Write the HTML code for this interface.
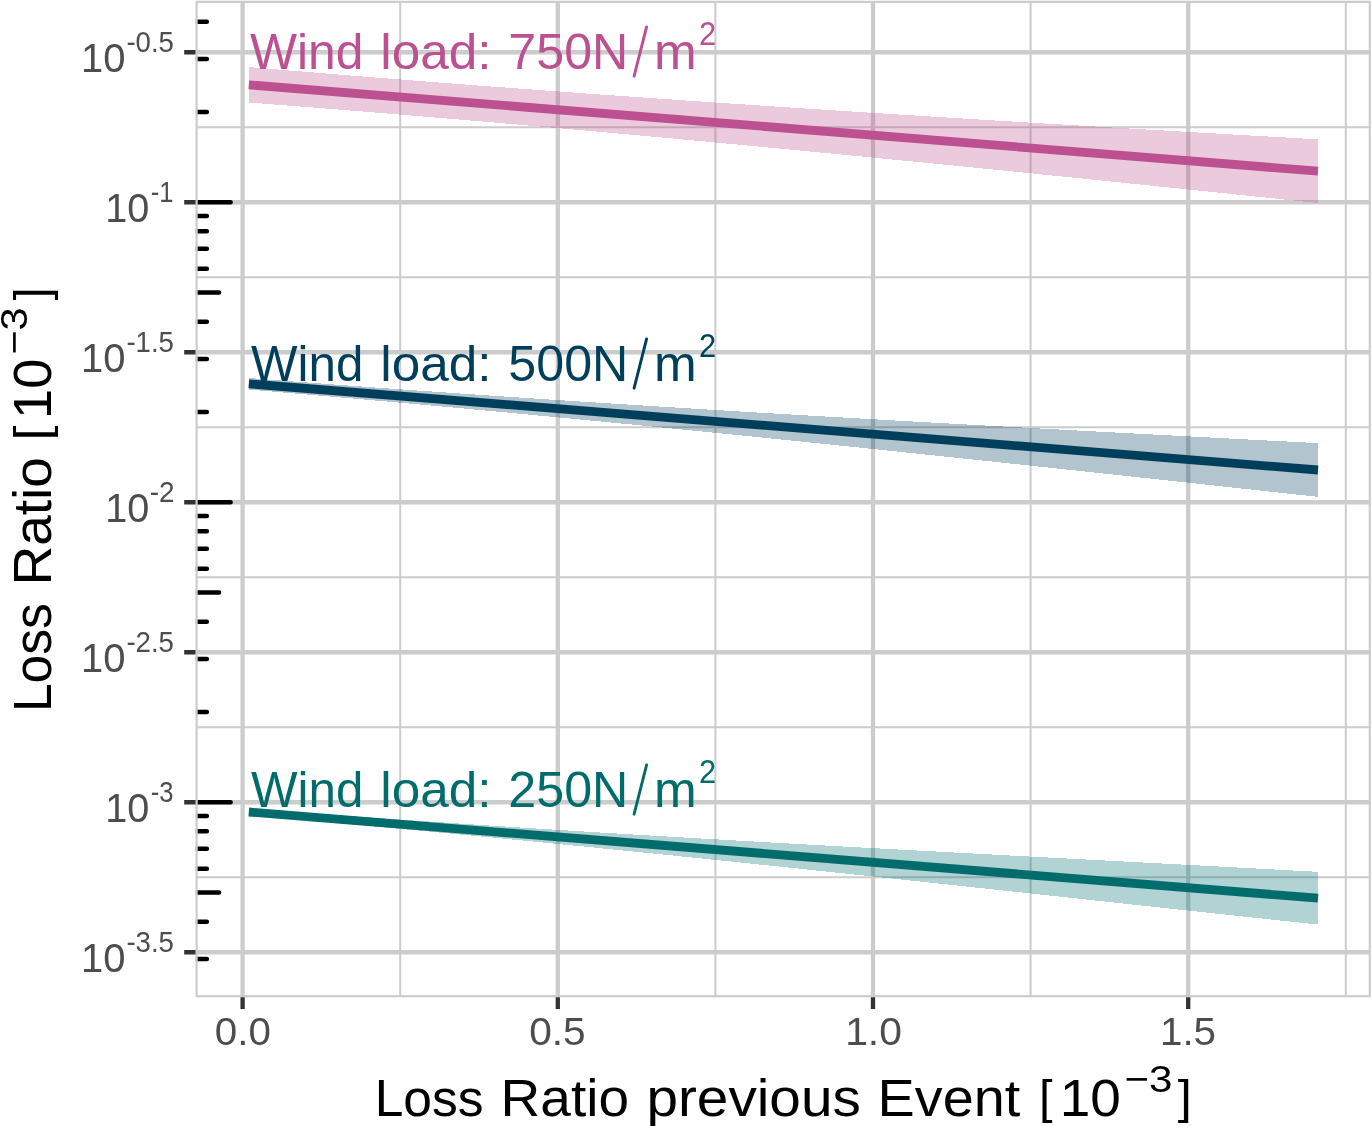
<!DOCTYPE html><html><head><meta charset="utf-8"><style>html,body{margin:0;padding:0;background:#fff;width:1372px;height:1126px;overflow:hidden}svg{display:block;will-change:transform}text{font-family:"Liberation Sans",sans-serif}</style></head><body>
<svg width="1372" height="1126" viewBox="0 0 1372 1126">
<rect width="1372" height="1126" fill="#fff"/>
<path d="M196.6 127.25H1369.8M196.6 277.25H1369.8M196.6 427.25H1369.8M196.6 577.25H1369.8M196.6 727.25H1369.8M196.6 877.25H1369.8M400.2 1.85V996.2M715.4 1.85V996.2M1030.6 1.85V996.2M1345.8 1.85V996.2" stroke="#CCCCCC" stroke-width="2" fill="none"/>
<path d="M196.6 52.25H1369.8M196.6 202.25H1369.8M196.6 352.25H1369.8M196.6 502.25H1369.8M196.6 652.25H1369.8M196.6 802.25H1369.8M196.6 952.25H1369.8M242.6 1.85V996.2M557.8 1.85V996.2M873 1.85V996.2M1188.2 1.85V996.2" stroke="#CCCCCC" stroke-width="4.3" fill="none"/>
<path d="M248.8 67.08 L262.33 68.22 L275.87 69.37 L289.4 70.5 L302.94 71.62 L316.47 72.74 L330.01 73.85 L343.54 74.95 L357.07 76.04 L370.61 77.13 L384.14 78.21 L397.68 79.28 L411.21 80.34 L424.74 81.4 L438.28 82.45 L451.81 83.49 L465.35 84.53 L478.88 85.56 L492.42 86.58 L505.95 87.59 L519.48 88.6 L533.02 89.61 L546.55 90.6 L560.09 91.59 L573.62 92.57 L587.15 93.55 L600.69 94.52 L614.22 95.48 L627.76 96.44 L641.29 97.4 L654.83 98.34 L668.36 99.28 L681.89 100.22 L695.43 101.15 L708.96 102.07 L722.5 102.99 L736.03 103.9 L749.56 104.81 L763.1 105.72 L776.63 106.61 L790.17 107.51 L803.7 108.4 L817.24 109.28 L830.77 110.16 L844.3 111.03 L857.84 111.9 L871.37 112.77 L884.91 113.63 L898.44 114.48 L911.97 115.34 L925.51 116.18 L939.04 117.03 L952.58 117.87 L966.11 118.7 L979.65 119.53 L993.18 120.36 L1006.71 121.19 L1020.25 122.01 L1033.78 122.83 L1047.32 123.64 L1060.85 124.45 L1074.38 125.26 L1087.92 126.06 L1101.45 126.86 L1114.99 127.66 L1128.52 128.46 L1142.06 129.25 L1155.59 130.04 L1169.12 130.83 L1182.66 131.61 L1196.19 132.39 L1209.73 133.17 L1223.26 133.95 L1236.79 134.72 L1250.33 135.5 L1263.86 136.27 L1277.4 137.04 L1290.93 137.8 L1304.47 138.57 L1318 139.33 L1318 203.07 L1304.47 201.65 L1290.93 200.22 L1277.4 198.8 L1263.86 197.38 L1250.33 195.97 L1236.79 194.55 L1223.26 193.14 L1209.73 191.73 L1196.19 190.32 L1182.66 188.92 L1169.12 187.51 L1155.59 186.11 L1142.06 184.72 L1128.52 183.32 L1114.99 181.93 L1101.45 180.54 L1087.92 179.15 L1074.38 177.77 L1060.85 176.39 L1047.32 175.01 L1033.78 173.64 L1020.25 172.27 L1006.71 170.9 L993.18 169.54 L979.65 168.18 L966.11 166.83 L952.58 165.48 L939.04 164.13 L925.51 162.78 L911.97 161.44 L898.44 160.11 L884.91 158.78 L871.37 157.45 L857.84 156.13 L844.3 154.81 L830.77 153.5 L817.24 152.19 L803.7 150.89 L790.17 149.59 L776.63 148.29 L763.1 147 L749.56 145.72 L736.03 144.44 L722.5 143.17 L708.96 141.9 L695.43 140.63 L681.89 139.38 L668.36 138.12 L654.83 136.88 L641.29 135.64 L627.76 134.4 L614.22 133.17 L600.69 131.95 L587.15 130.73 L573.62 129.52 L560.09 128.32 L546.55 127.12 L533.02 125.93 L519.48 124.74 L505.95 123.57 L492.42 122.39 L478.88 121.23 L465.35 120.07 L451.81 118.92 L438.28 117.77 L424.74 116.63 L411.21 115.5 L397.68 114.38 L384.14 113.26 L370.61 112.16 L357.07 111.05 L343.54 109.96 L330.01 108.88 L316.47 107.8 L302.94 106.73 L289.4 105.66 L275.87 104.61 L262.33 103.56 L248.8 102.52 Z" fill="#BC5090" fill-opacity="0.3" shape-rendering="crispEdges"/>
<path d="M248.8 378.01 L262.33 379.06 L275.87 380.1 L289.4 381.14 L302.94 382.16 L316.47 383.18 L330.01 384.19 L343.54 385.19 L357.07 386.18 L370.61 387.17 L384.14 388.14 L397.68 389.11 L411.21 390.08 L424.74 391.03 L438.28 391.98 L451.81 392.92 L465.35 393.86 L478.88 394.78 L492.42 395.71 L505.95 396.62 L519.48 397.53 L533.02 398.43 L546.55 399.32 L560.09 400.21 L573.62 401.09 L587.15 401.97 L600.69 402.84 L614.22 403.7 L627.76 404.56 L641.29 405.42 L654.83 406.26 L668.36 407.11 L681.89 407.94 L695.43 408.77 L708.96 409.6 L722.5 410.42 L736.03 411.24 L749.56 412.05 L763.1 412.86 L776.63 413.66 L790.17 414.46 L803.7 415.25 L817.24 416.04 L830.77 416.82 L844.3 417.6 L857.84 418.38 L871.37 419.15 L884.91 419.92 L898.44 420.69 L911.97 421.45 L925.51 422.21 L939.04 422.96 L952.58 423.71 L966.11 424.46 L979.65 425.21 L993.18 425.95 L1006.71 426.69 L1020.25 427.42 L1033.78 428.16 L1047.32 428.89 L1060.85 429.62 L1074.38 430.35 L1087.92 431.07 L1101.45 431.79 L1114.99 432.51 L1128.52 433.23 L1142.06 433.95 L1155.59 434.66 L1169.12 435.37 L1182.66 436.08 L1196.19 436.79 L1209.73 437.5 L1223.26 438.21 L1236.79 438.91 L1250.33 439.62 L1263.86 440.32 L1277.4 441.03 L1290.93 441.73 L1304.47 442.43 L1318 443.13 L1318 496.87 L1304.47 495.39 L1290.93 493.91 L1277.4 492.43 L1263.86 490.95 L1250.33 489.47 L1236.79 487.99 L1223.26 486.52 L1209.73 485.04 L1196.19 483.57 L1182.66 482.09 L1169.12 480.62 L1155.59 479.15 L1142.06 477.69 L1128.52 476.22 L1114.99 474.75 L1101.45 473.29 L1087.92 471.83 L1074.38 470.37 L1060.85 468.92 L1047.32 467.46 L1033.78 466.01 L1020.25 464.56 L1006.71 463.12 L993.18 461.68 L979.65 460.24 L966.11 458.8 L952.58 457.36 L939.04 455.93 L925.51 454.51 L911.97 453.08 L898.44 451.66 L884.91 450.24 L871.37 448.83 L857.84 447.42 L844.3 446.02 L830.77 444.61 L817.24 443.22 L803.7 441.82 L790.17 440.43 L776.63 439.05 L763.1 437.67 L749.56 436.29 L736.03 434.92 L722.5 433.56 L708.96 432.2 L695.43 430.84 L681.89 429.49 L668.36 428.14 L654.83 426.8 L641.29 425.47 L627.76 424.14 L614.22 422.82 L600.69 421.5 L587.15 420.19 L573.62 418.88 L560.09 417.58 L546.55 416.29 L533.02 415 L519.48 413.72 L505.95 412.44 L492.42 411.18 L478.88 409.91 L465.35 408.66 L451.81 407.41 L438.28 406.17 L424.74 404.94 L411.21 403.71 L397.68 402.49 L384.14 401.28 L370.61 400.08 L357.07 398.88 L343.54 397.69 L330.01 396.51 L316.47 395.33 L302.94 394.17 L289.4 393.01 L275.87 391.86 L262.33 390.72 L248.8 389.59 Z" fill="#003F5C" fill-opacity="0.3" shape-rendering="crispEdges"/>
<path d="M248.8 808.53 L262.33 809.57 L275.87 810.59 L289.4 811.6 L302.94 812.6 L316.47 813.6 L330.01 814.58 L343.54 815.56 L357.07 816.52 L370.61 817.48 L384.14 818.43 L397.68 819.37 L411.21 820.3 L424.74 821.22 L438.28 822.13 L451.81 823.04 L465.35 823.94 L478.88 824.83 L492.42 825.71 L505.95 826.59 L519.48 827.45 L533.02 828.32 L546.55 829.17 L560.09 830.02 L573.62 830.86 L587.15 831.69 L600.69 832.52 L614.22 833.35 L627.76 834.16 L641.29 834.97 L654.83 835.78 L668.36 836.58 L681.89 837.37 L695.43 838.16 L708.96 838.95 L722.5 839.73 L736.03 840.51 L749.56 841.28 L763.1 842.04 L776.63 842.81 L790.17 843.57 L803.7 844.32 L817.24 845.07 L830.77 845.82 L844.3 846.57 L857.84 847.31 L871.37 848.05 L884.91 848.78 L898.44 849.52 L911.97 850.25 L925.51 850.98 L939.04 851.7 L952.58 852.43 L966.11 853.15 L979.65 853.87 L993.18 854.59 L1006.71 855.31 L1020.25 856.03 L1033.78 856.74 L1047.32 857.46 L1060.85 858.17 L1074.38 858.89 L1087.92 859.6 L1101.45 860.32 L1114.99 861.03 L1128.52 861.74 L1142.06 862.46 L1155.59 863.17 L1169.12 863.89 L1182.66 864.6 L1196.19 865.32 L1209.73 866.04 L1223.26 866.76 L1236.79 867.48 L1250.33 868.2 L1263.86 868.93 L1277.4 869.65 L1290.93 870.38 L1304.47 871.11 L1318 871.85 L1318 924.55 L1304.47 923.1 L1290.93 921.65 L1277.4 920.2 L1263.86 918.74 L1250.33 917.29 L1236.79 915.83 L1223.26 914.36 L1209.73 912.9 L1196.19 911.44 L1182.66 909.97 L1169.12 908.51 L1155.59 907.04 L1142.06 905.57 L1128.52 904.1 L1114.99 902.64 L1101.45 901.17 L1087.92 899.7 L1074.38 898.23 L1060.85 896.76 L1047.32 895.3 L1033.78 893.83 L1020.25 892.36 L1006.71 890.9 L993.18 889.43 L979.65 887.97 L966.11 886.51 L952.58 885.05 L939.04 883.59 L925.51 882.14 L911.97 880.68 L898.44 879.23 L884.91 877.78 L871.37 876.34 L857.84 874.9 L844.3 873.45 L830.77 872.02 L817.24 870.58 L803.7 869.15 L790.17 867.73 L776.63 866.3 L763.1 864.88 L749.56 863.47 L736.03 862.06 L722.5 860.65 L708.96 859.25 L695.43 857.85 L681.89 856.46 L668.36 855.07 L654.83 853.69 L641.29 852.31 L627.76 850.94 L614.22 849.58 L600.69 848.22 L587.15 846.86 L573.62 845.52 L560.09 844.17 L546.55 842.84 L533.02 841.51 L519.48 840.19 L505.95 838.88 L492.42 837.57 L478.88 836.27 L465.35 834.98 L451.81 833.7 L438.28 832.42 L424.74 831.15 L411.21 829.89 L397.68 828.64 L384.14 827.4 L370.61 826.16 L357.07 824.94 L343.54 823.72 L330.01 822.51 L316.47 821.31 L302.94 820.12 L289.4 818.95 L275.87 817.78 L262.33 816.62 L248.8 815.47 Z" fill="#006C6C" fill-opacity="0.3" shape-rendering="crispEdges"/>
<path d="M248.8 84.8 L1318 171.2" stroke="#BC5090" stroke-width="8.8" fill="none"/>
<path d="M248.8 383.8 L1318 470" stroke="#003F5C" stroke-width="8.8" fill="none"/>
<path d="M248.8 812 L1318 898.2" stroke="#006C6C" stroke-width="8.8" fill="none"/>
<path d="M634.1 76.2 L646.6 26.9" stroke="#BC5090" stroke-width="2.9" stroke-linecap="round" fill="none"/>
<path d="M634.1 388.2 L646.6 338.9" stroke="#003F5C" stroke-width="2.9" stroke-linecap="round" fill="none"/>
<path d="M634.1 814.2 L646.6 764.9" stroke="#006C6C" stroke-width="2.9" stroke-linecap="round" fill="none"/>
<g transform="translate(81 72.2) scale(0.9953 1.0000)"><text x="0" y="0" font-size="40.12" fill="#4D4D4D">10</text></g>
<g transform="translate(126.44 51.8) scale(0.9583 1.0000)"><text x="0" y="0" font-size="28.78" fill="#4D4D4D">-0.5</text></g>
<g transform="translate(105.22 222.2) scale(0.9880 1.0000)"><text x="0" y="0" font-size="40.12" fill="#4D4D4D">10</text></g>
<g transform="translate(150.69 201.8) scale(0.8888 1.0000)"><text x="0" y="0" font-size="28.78" fill="#4D4D4D">-1</text></g>
<g transform="translate(81 372.2) scale(0.9953 1.0000)"><text x="0" y="0" font-size="40.12" fill="#4D4D4D">10</text></g>
<g transform="translate(126.44 351.8) scale(0.9583 1.0000)"><text x="0" y="0" font-size="28.78" fill="#4D4D4D">-1.5</text></g>
<g transform="translate(105.22 522.2) scale(0.9880 1.0000)"><text x="0" y="0" font-size="40.12" fill="#4D4D4D">10</text></g>
<g transform="translate(149.63 501.8) scale(0.9696 1.0000)"><text x="0" y="0" font-size="28.78" fill="#4D4D4D">-2</text></g>
<g transform="translate(81 672.2) scale(0.9953 1.0000)"><text x="0" y="0" font-size="40.12" fill="#4D4D4D">10</text></g>
<g transform="translate(126.44 651.8) scale(0.9583 1.0000)"><text x="0" y="0" font-size="28.78" fill="#4D4D4D">-2.5</text></g>
<g transform="translate(105.22 822.2) scale(0.9880 1.0000)"><text x="0" y="0" font-size="40.12" fill="#4D4D4D">10</text></g>
<g transform="translate(150.69 801.8) scale(0.8888 1.0000)"><text x="0" y="0" font-size="28.78" fill="#4D4D4D">-3</text></g>
<g transform="translate(81 972.2) scale(0.9953 1.0000)"><text x="0" y="0" font-size="40.12" fill="#4D4D4D">10</text></g>
<g transform="translate(126.44 951.8) scale(0.9583 1.0000)"><text x="0" y="0" font-size="28.78" fill="#4D4D4D">-3.5</text></g>
<g transform="translate(214.77 1045) scale(1.0171 1.0000)"><text x="0" y="0" font-size="39.68" fill="#4D4D4D">0.0</text></g>
<g transform="translate(529.16 1045) scale(1.0250 1.0000)"><text x="0" y="0" font-size="39.68" fill="#4D4D4D">0.5</text></g>
<g transform="translate(845.13 1045) scale(1.0291 1.0000)"><text x="0" y="0" font-size="39.68" fill="#4D4D4D">1.0</text></g>
<g transform="translate(1159.95 1045) scale(1.0178 1.0000)"><text x="0" y="0" font-size="39.68" fill="#4D4D4D">1.5</text></g>
<g transform="translate(249.99 69) scale(1.0074 1.0000)"><text x="0" y="0" font-size="49.42" fill="#BC5090">Wind</text></g>
<g transform="translate(380.29 69) scale(1.0390 1.0000)"><text x="0" y="0" font-size="49.42" fill="#BC5090">load:</text></g>
<g transform="translate(508.36 69) scale(1.0161 1.0000)"><text x="0" y="0" font-size="49.42" fill="#BC5090">750N</text></g>
<g transform="translate(654.06 69) scale(1.0377 1.0000)"><text x="0" y="0" font-size="49.42" fill="#BC5090">m</text></g>
<g transform="translate(699.07 45.1) scale(0.9327 1.0000)"><text x="0" y="0" font-size="33.14" fill="#BC5090">2</text></g>
<g transform="translate(251 381) scale(0.9982 1.0000)"><text x="0" y="0" font-size="49.42" fill="#003F5C">Wind</text></g>
<g transform="translate(380.29 381) scale(1.0390 1.0000)"><text x="0" y="0" font-size="49.42" fill="#003F5C">load:</text></g>
<g transform="translate(508.37 381) scale(1.0160 1.0000)"><text x="0" y="0" font-size="49.42" fill="#003F5C">500N</text></g>
<g transform="translate(654.06 381) scale(1.0377 1.0000)"><text x="0" y="0" font-size="49.42" fill="#003F5C">m</text></g>
<g transform="translate(699.07 357) scale(0.9327 1.0000)"><text x="0" y="0" font-size="33.14" fill="#003F5C">2</text></g>
<g transform="translate(251 807) scale(0.9982 1.0000)"><text x="0" y="0" font-size="49.42" fill="#006C6C">Wind</text></g>
<g transform="translate(380.29 807) scale(1.0390 1.0000)"><text x="0" y="0" font-size="49.42" fill="#006C6C">load:</text></g>
<g transform="translate(508.36 807) scale(1.0161 1.0000)"><text x="0" y="0" font-size="49.42" fill="#006C6C">250N</text></g>
<g transform="translate(654.06 807) scale(1.0377 1.0000)"><text x="0" y="0" font-size="49.42" fill="#006C6C">m</text></g>
<g transform="translate(699.07 783.1) scale(0.9327 1.0000)"><text x="0" y="0" font-size="33.14" fill="#006C6C">2</text></g>
<g transform="translate(374.66 1116) scale(0.9831 1.0000)"><text x="0" y="0" font-size="52.47" fill="#000">Loss</text></g>
<g transform="translate(500.58 1116) scale(1.0492 1.0000)"><text x="0" y="0" font-size="52.47" fill="#000">Ratio</text></g>
<g transform="translate(646.39 1116) scale(1.0815 1.0000)"><text x="0" y="0" font-size="52.47" fill="#000">previous</text></g>
<g transform="translate(877.56 1116) scale(1.0631 1.0000)"><text x="0" y="0" font-size="52.47" fill="#000">Event</text></g>
<g transform="translate(1038.96 1112.74) scale(0.9281 0.8884)"><text x="0" y="0" font-size="52.47" fill="#000">[</text></g>
<g transform="translate(1059.63 1116) scale(1.0487 1.0000)"><text x="0" y="0" font-size="52.47" fill="#000">10</text></g>
<g transform="translate(1124.47 1091.5) scale(1.1150 1.0000)"><text x="0" y="0" font-size="37.79" fill="#000">−3</text></g>
<g transform="translate(1177.8 1112.74) scale(0.9676 0.8884)"><text x="0" y="0" font-size="52.47" fill="#000">]</text></g>
<g transform="translate(51.1 712.12) rotate(-90) scale(0.9784 1.0000)"><text x="0" y="0" font-size="52.76" fill="#000">Loss</text></g>
<g transform="translate(51.1 585.56) rotate(-90) scale(1.0424 1.0000)"><text x="0" y="0" font-size="52.76" fill="#000">Ratio</text></g>
<g transform="translate(47.67 440.44) rotate(-90) scale(1.0111 0.9022)"><text x="0" y="0" font-size="52.76" fill="#000">[</text></g>
<g transform="translate(51.1 418.91) rotate(-90) scale(1.0249 1.0000)"><text x="0" y="0" font-size="52.76" fill="#000">10</text></g>
<g transform="translate(26.6 354.56) rotate(-90) scale(1.1000 1.0000)"><text x="0" y="0" font-size="37.65" fill="#000">−3</text></g>
<g transform="translate(47.73 300.61) rotate(-90) scale(0.9031 0.8961)"><text x="0" y="0" font-size="52.76" fill="#000">]</text></g>
<clipPath id="pc"><rect x="195.8" y="1.85" width="1173.2" height="994.35"/></clipPath>
<path clip-path="url(#pc)" d="M194 202.25H230.65M194 111.94H206.85M194 59.11H206.85M194 21.63H206.85M194 502.25H230.65M194 411.94H206.85M194 359.11H206.85M194 321.63H206.85M194 292.56H219.05M194 268.8H206.85M194 248.72H206.85M194 231.32H206.85M194 215.98H206.85M194 802.25H230.65M194 711.94H206.85M194 659.11H206.85M194 621.63H206.85M194 592.56H219.05M194 568.8H206.85M194 548.72H206.85M194 531.32H206.85M194 515.98H206.85M194 959.11H206.85M194 921.63H206.85M194 892.56H219.05M194 868.8H206.85M194 848.72H206.85M194 831.32H206.85M194 815.98H206.85" stroke="#000" stroke-width="4.5" stroke-linecap="round" fill="none"/>
<rect x="196.6" y="1.85" width="1173.2" height="994.35" fill="none" stroke="#CCCCCC" stroke-width="2.2"/>
<path d="M184.2 52.25H195.5M184.2 202.25H195.5M184.2 352.25H195.5M184.2 502.25H195.5M184.2 652.25H195.5M184.2 802.25H195.5M184.2 952.25H195.5M242.6 997.3V1009M557.8 997.3V1009M873 997.3V1009M1188.2 997.3V1009" stroke="#333333" stroke-width="4.3" fill="none"/>
</svg></body></html>
